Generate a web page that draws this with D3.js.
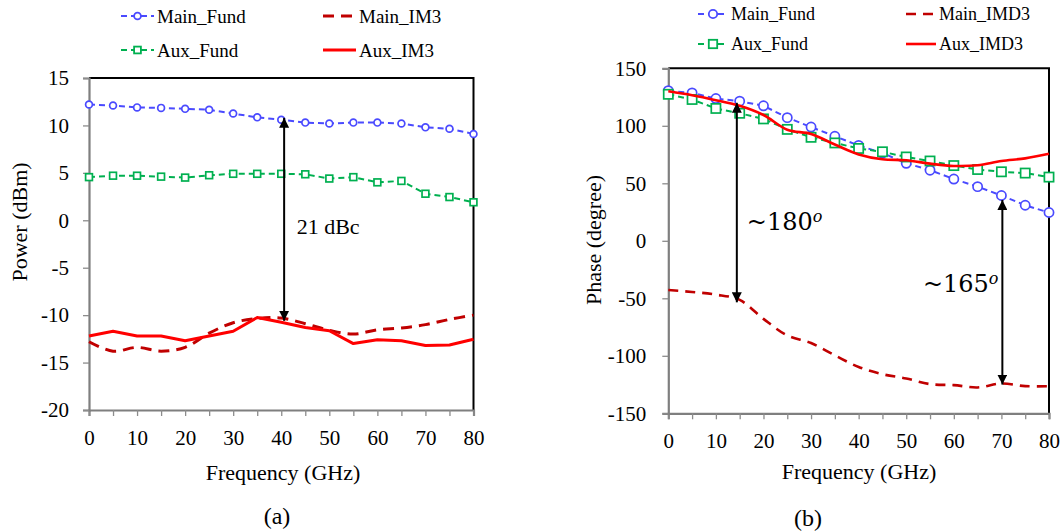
<!DOCTYPE html>
<html><head><meta charset="utf-8">
<script src="https://cdn.jsdelivr.net/npm/d3@7"></script>
<style>
body{margin:0;background:#fff}
svg{display:block}
</style>
</head><body>
<svg id="chart" width="1061" height="532"></svg>
<script>
// ---------- DATA ----------
const freq = [0,5,10,15,20,25,30,35,40,45,50,55,60,65,70,75,80];

// (a) Power (dBm)
const powerMainFund = [12.2,12.1,11.9,11.85,11.75,11.65,11.25,10.85,10.6,10.3,10.2,10.3,10.3,10.2,9.8,9.65,9.1];
const powerAuxFund  = [4.55,4.7,4.7,4.6,4.5,4.75,4.9,4.9,4.9,4.85,4.4,4.55,4.0,4.15,2.8,2.45,1.9];
const powerMainIM3  = [-12.8,-13.8,-13.4,-13.8,-13.4,-11.9,-10.8,-10.35,-10.3,-10.9,-11.6,-12.0,-11.55,-11.35,-11.0,-10.45,-10.0];
const powerAuxIM3   = [-12.2,-11.7,-12.2,-12.2,-12.7,-12.2,-11.7,-10.25,-10.75,-11.3,-11.65,-13.0,-12.6,-12.7,-13.2,-13.15,-12.55];

// (b) Phase (degree)
const phaseMainFund = [130.5,128.6,123.7,121.4,117.4,107.1,98.9,90.9,82.9,76.3,67.4,61.4,53.7,47.1,39.4,30.9,24.6];
const phaseAuxFund  = [127.4,122.9,115.1,110.9,106.0,96.9,90.0,85.1,80.3,77.4,72.9,69.4,65.4,62.0,60.0,58.9,55.4];
const phaseMainIMD3 = [-42.8,-44.5,-46.8,-51.4,-67.9,-82.3,-88.9,-99.6,-109.7,-116.0,-119.7,-124.6,-125.5,-127.5,-124.1,-126.4,-126.4];
const phaseAuxIMD3  = [130.0,126.6,122.3,117.4,109.4,96.6,92.9,83.7,75.1,70.9,70.0,67.1,65.1,65.7,69.4,71.7,75.7];

// tick values
const xTicks = [0,5,10,15,20,25,30,35,40,45,50,55,60,65,70,75,80];
const xTickLabels = [0,10,20,30,40,50,60,70,80];
const powerTicks = [15,10,5,0,-5,-10,-15,-20];
const phaseTicks = [150,100,50,0,-50,-100,-150];

// legend labels
const legendA = ["Main_Fund","Main_IM3","Aux_Fund","Aux_IM3"];
const legendB = ["Main_Fund","Main_IMD3","Aux_Fund","Aux_IMD3"];

// annotations (data coords)
const annA = {x:40.6, y1:10.8, y2:-10.6, label:"21 dBc", lx:43.2, ly:-1.4};
const annB = [
  {x:14.4, y1:120, y2:-53.5, lx:16.5, ly:9},
  {x:70.2, y1:35.5, y2:-125, lx:53.5, ly:-44.8}
];
const annBLabels = ["~180","~165"];

// ---------- STYLE ----------
const SERIF = '"Liberation Serif"';
const BLUE = "#4a4aff", GREEN = "#00b050", DKRED = "#c00000", RED = "#ff0000";
const svg = d3.select("#chart");

const defs = svg.append("defs");
defs.append("marker").attr("id","ah").attr("viewBox","0 0 10 10").attr("refX",10).attr("refY",5)
  .attr("markerWidth",5).attr("markerHeight",5).attr("markerUnits","strokeWidth").attr("orient","auto-start-reverse")
  .append("path").attr("d","M0,0 L10,5 L0,10 Z").attr("fill","#000");

function txt(sel, size){
  return sel.style("font-family",SERIF).style("font-size",size+"px").attr("fill","#000");
}

function drawPanel(cfg){
  const g = svg.append("g");
  const x = d3.scaleLinear().domain([0,80]).range([cfg.x0,cfg.x1]);
  const y = d3.scaleLinear().domain(cfg.yDomain).range([cfg.y1,cfg.y0]);

  g.append("path").attr("d",`M${cfg.x0},${cfg.y0}H${cfg.x1}V${cfg.y1}`)
    .attr("fill","none").attr("stroke","#000").attr("stroke-width",2);

  const xa = g.append("g").attr("transform",`translate(0,${cfg.y1})`)
    .call(d3.axisBottom(x).tickValues(xTicks).tickSize(6).tickPadding(10)
      .tickFormat(d => xTickLabels.includes(d) ? String(d) : ""));
  const ya = g.append("g").attr("transform",`translate(${cfg.x0},0)`)
    .call(d3.axisLeft(y).tickValues(cfg.yTicks).tickSize(6).tickPadding(cfg.yPad)
      .tickFormat(d => String(d)));
  [xa,ya].forEach(a=>{
    a.attr("font-family",null).attr("font-size",null);
    a.select(".domain").attr("stroke","#7f7f7f").attr("stroke-width",2.2);
    a.selectAll(".tick line").attr("stroke","#8c8c8c").attr("stroke-width",1.3);
    txt(a.selectAll("text"), cfg.tickFont);
  });
  xa.selectAll("text").attr("dy","0.9em");

  txt(g.append("text").attr("transform",`translate(${cfg.ytx},${cfg.yty}) rotate(-90)`)
    .attr("text-anchor","middle").attr("dominant-baseline","central"), 22).text(cfg.yTitle);
  txt(g.append("text").attr("x",cfg.xtx).attr("y",cfg.xty).attr("text-anchor","middle")
    .attr("dominant-baseline","central"), 22).text("Frequency (GHz)");
  txt(g.append("text").attr("x",cfg.capx).attr("y",cfg.capy).attr("text-anchor","middle")
    .attr("dominant-baseline","central"), 24).text(cfg.caption);

  const lin = d3.line().x((d,i)=>x(freq[i])).y(d=>y(d));
  const smooth = d3.line().x((d,i)=>x(freq[i])).y(d=>y(d)).curve(d3.curveCatmullRom.alpha(0.5));
  cfg.series.forEach(s=>{
    g.append("path").datum(s.values).attr("d", s.smooth ? smooth : lin)
      .attr("fill","none").attr("stroke",s.color).attr("stroke-width",s.width)
      .attr("stroke-dasharray",s.dash||null).attr("stroke-linejoin","round");
    if(s.marker==="circle"){
      g.selectAll(null).data(s.values).join("circle")
        .attr("cx",(d,i)=>x(freq[i])).attr("cy",d=>y(d)).attr("r",cfg.mr)
        .attr("fill","#fff").attr("stroke",s.color).attr("stroke-width",1.7);
    } else if(s.marker==="square"){
      g.selectAll(null).data(s.values).join("rect")
        .attr("x",(d,i)=>x(freq[i])-cfg.mr).attr("y",d=>y(d)-cfg.mr)
        .attr("width",cfg.mr*2).attr("height",cfg.mr*2)
        .attr("fill","#fff").attr("stroke",s.color).attr("stroke-width",1.7);
    }
  });

  cfg.legend.forEach(L=>{
    const s = cfg.series[L.si];
    const lg = g.append("g");
    lg.append("line").attr("x1",L.x).attr("x2",L.x+cfg.lw).attr("y1",L.y).attr("y2",L.y)
      .attr("stroke",s.color).attr("stroke-width",s.width).attr("stroke-dasharray",s.dash||null);
    const cx = L.x + cfg.lw/2;
    if(s.marker==="circle") lg.append("circle").attr("cx",cx).attr("cy",L.y).attr("r",cfg.lmr)
      .attr("fill","#fff").attr("stroke",s.color).attr("stroke-width",1.8);
    if(s.marker==="square") lg.append("rect").attr("x",cx-cfg.lmr).attr("y",L.y-cfg.lmr)
      .attr("width",cfg.lmr*2).attr("height",cfg.lmr*2).attr("fill","#fff").attr("stroke",s.color).attr("stroke-width",1.8);
    txt(lg.append("text").attr("x",L.x+cfg.lw+3).attr("y",L.y).attr("dominant-baseline","central"), cfg.legFont).text(L.label);
  });

  return {g,x,y};
}

// ---------- PANEL (a) ----------
const A = drawPanel({
  x0:89, x1:473.5, y0:78, y1:410, yDomain:[-20,15], yTicks:powerTicks, yPad:14, tickFont:21,
  yTitle:"Power (dBm)", ytx:19, yty:222, xtx:283, xty:472, caption:"(a)", capx:277, capy:516,
  mr:3.4, lmr:3.4, lw:33, legFont:19,
  series:[
    {values:powerMainFund, color:BLUE, width:2, dash:"6,4", marker:"circle"},
    {values:powerMainIM3, color:DKRED, width:3, dash:"11,7", smooth:true},
    {values:powerAuxFund, color:GREEN, width:2, dash:"6,4", marker:"square"},
    {values:powerAuxIM3, color:RED, width:3}
  ],
  legend:[
    {si:0,label:legendA[0],x:121,y:16},
    {si:1,label:legendA[1],x:323,y:16},
    {si:2,label:legendA[2],x:121,y:50},
    {si:3,label:legendA[3],x:323,y:50}
  ]
});
A.g.append("line").attr("x1",A.x(annA.x)).attr("x2",A.x(annA.x)).attr("y1",A.y(annA.y1)).attr("y2",A.y(annA.y2))
  .attr("stroke","#000").attr("stroke-width",2).attr("marker-start","url(#ah)").attr("marker-end","url(#ah)");
txt(A.g.append("text").attr("x",A.x(annA.lx)).attr("y",A.y(annA.ly)), 22).text(annA.label);

// ---------- PANEL (b) ----------
const B = drawPanel({
  x0:668.3, x1:1049, y0:68.3, y1:413.3, yDomain:[-150,150], yTicks:phaseTicks, yPad:16, tickFont:21,
  yTitle:"Phase (degree)", ytx:593, yty:240, xtx:859, xty:471, caption:"(b)", capx:808, capy:518,
  mr:4.6, lmr:4.2, lw:30, legFont:18,
  series:[
    {values:phaseMainFund, color:BLUE, width:2, dash:"6,4", marker:"circle"},
    {values:phaseMainIMD3, color:DKRED, width:2.6, dash:"10,7", smooth:true},
    {values:phaseAuxFund, color:GREEN, width:2, dash:"6,4", marker:"square"},
    {values:phaseAuxIMD3, color:RED, width:2.6, smooth:true}
  ],
  legend:[
    {si:0,label:legendB[0],x:698,y:14},
    {si:1,label:legendB[1],x:906,y:14},
    {si:2,label:legendB[2],x:698,y:44},
    {si:3,label:legendB[3],x:906,y:44}
  ]
});
annB.forEach((a,i)=>{
  B.g.append("line").attr("x1",B.x(a.x)).attr("x2",B.x(a.x)).attr("y1",B.y(a.y1)).attr("y2",B.y(a.y2))
    .attr("stroke","#000").attr("stroke-width",2).attr("marker-start","url(#ah)").attr("marker-end","url(#ah)");
  const t = B.g.append("text").attr("x",B.x(a.lx)).attr("y",B.y(a.ly))
    .style("font-family",'"DejaVu Serif"').style("font-size","24px").attr("fill","#000");
  t.append("tspan").text(annBLabels[i]);
  t.append("tspan").attr("dy","-0.55em").style("font-size","16px").style("font-style","italic").text("o");
});
</script>
</body></html>
